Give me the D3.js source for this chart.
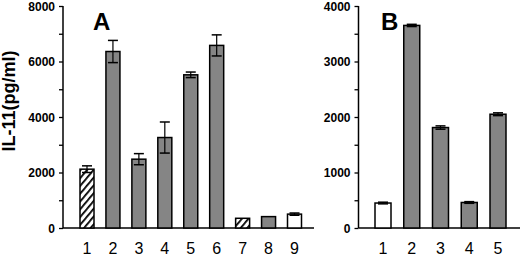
<!DOCTYPE html>
<html>
<head>
<meta charset="utf-8">
<script src="https://cdn.jsdelivr.net/npm/d3@7"></script>
<style>
	body { margin: 0; background: #fff; }
	svg { display: block; }
	text { font-family: "Liberation Sans", Arial, sans-serif; }
</style>
</head>
<body>
<div id="plot"></div>
<script>

///////////////////////////////////////////////////////////////////////
// data

let a_labels = [ "1", "2", "3", "4", "5", "6", "7", "8", "9" ];
let a_values = [ 2120, 6360, 2480, 3260, 5520, 6580, 350, 410, 500 ];
let a_errors = [ 120, 400, 200, 560, 100, 380, 0, 0, 40 ];
let a_fills = [ "hatch", "gray", "gray", "gray", "gray", "gray", "hatch", "gray", "white" ];
let a_ticks = [ 0, 2000, 4000, 6000, 8000 ];

let b_labels = [ "1", "2", "3", "4", "5" ];
let b_values = [ 450, 3650, 1810, 460, 2050 ];
let b_errors = [ 15, 20, 30, 15, 25 ];
let b_fills = [ "white", "gray", "gray", "gray", "gray" ];
let b_ticks = [ 0, 1000, 2000, 3000, 4000 ];

///////////////////////////////////////////////////////////////////////

let width = 520, height = 258;

let svg = d3.select( "#plot" )
	.append( "svg" )
		.attr( "width", width )
		.attr( "height", height );

let defs = svg.append( "defs" );
let pat = defs.append( "pattern" )
	.attr( "id", "hatch" )
	.attr( "patternUnits", "userSpaceOnUse" )
	.attr( "width", 5 )
	.attr( "height", 5 )
	.attr( "patternTransform", "rotate(40)" );
pat.append( "rect" )
	.attr( "width", 5 ).attr( "height", 5 )
	.attr( "fill", "#fff" );
pat.append( "line" )
	.attr( "x1", 0 ).attr( "y1", 0 )
	.attr( "x2", 0 ).attr( "y2", 5 )
	.attr( "stroke", "#000" )
	.attr( "stroke-width", 3.6 );

function fill_of( f )	{
	if( f == "hatch" ) return "url(#hatch)";
	if( f == "gray" ) return "#858585";
	return "#fff";
}

function draw_panel( p )	{

	let g = svg.append( "g" );

	let y = d3.scaleLinear()
		.domain( [ 0, p.ymax ] )
		.range( [ 228, 6 ] );

	let x = d3.scalePoint()
		.domain( p.labels )
		.range( p.xrange );

	// y axis with minor ticks
	let minor = d3.range( 0, p.ymax + 1, p.ymax / 8 );
	g.append( "g" )
		.attr( "transform", "translate(" + p.axis_x + ",0)" )
		.call( d3.axisLeft( y ).tickValues( minor ).tickSize( 4 ).tickFormat( "" ) )
		.call( s => s.select( ".domain" ).remove() )
		.call( s => s.selectAll( "line" ).attr( "stroke-width", 1.3 ) );

	g.append( "line" )
		.attr( "x1", p.axis_x ).attr( "x2", p.axis_x )
		.attr( "y1", y( p.ymax ) ).attr( "y2", y( 0 ) )
		.attr( "stroke", "#000" )
		.attr( "stroke-width", 1.5 );

	g.selectAll( ".tlab" )
		.data( p.ticks )
		.join( "text" )
			.attr( "x", p.axis_x - 8 )
			.attr( "y", d => y( d ) + 4.5 )
			.attr( "text-anchor", "end" )
			.attr( "font-size", 12 )
			.attr( "font-weight", "bold" )
			.text( d => d );

	// x baseline
	g.append( "line" )
		.attr( "x1", p.axis_x ).attr( "x2", p.base_end )
		.attr( "y1", y( 0 ) ).attr( "y2", y( 0 ) )
		.attr( "stroke", "#000" )
		.attr( "stroke-width", 1.5 );

	let rows = p.labels.map( ( l, i ) => ( { l, v: p.values[ i ], e: p.errors[ i ], f: p.fills[ i ] } ) );

	// upper whiskers sit behind the bars
	let eb = g.selectAll( ".err" )
		.data( rows.filter( d => d.e > 0 ) )
		.join( "g" );
	eb.append( "line" )
		.attr( "x1", d => x( d.l ) ).attr( "x2", d => x( d.l ) )
		.attr( "y1", d => y( d.v + d.e ) ).attr( "y2", d => y( d.v ) )
		.attr( "stroke", "#000" ).attr( "stroke-width", 1.2 );
	eb.append( "line" )
		.attr( "x1", d => x( d.l ) - 5 ).attr( "x2", d => x( d.l ) + 5 )
		.attr( "y1", d => y( d.v + d.e ) ).attr( "y2", d => y( d.v + d.e ) )
		.attr( "stroke", "#000" ).attr( "stroke-width", 1.5 );

	g.selectAll( ".bar" )
		.data( rows )
		.join( "rect" )
			.attr( "x", d => x( d.l ) - p.bar_w / 2 )
			.attr( "width", p.bar_w )
			.attr( "y", d => y( d.v ) )
			.attr( "height", d => y( 0 ) - y( d.v ) )
			.attr( "fill", d => fill_of( d.f ) )
			.attr( "stroke", "#000" )
			.attr( "stroke-width", 1.5 );

	// lower whiskers drawn over the bars
	let lw = g.selectAll( ".low" )
		.data( rows.filter( d => d.e > 0 ) )
		.join( "g" );
	lw.append( "line" )
		.attr( "x1", d => x( d.l ) ).attr( "x2", d => x( d.l ) )
		.attr( "y1", d => y( d.v ) ).attr( "y2", d => y( d.v - d.e ) )
		.attr( "stroke", "#000" ).attr( "stroke-width", 1.2 );
	lw.append( "line" )
		.attr( "x1", d => x( d.l ) - 5 ).attr( "x2", d => x( d.l ) + 5 )
		.attr( "y1", d => y( d.v - d.e ) ).attr( "y2", d => y( d.v - d.e ) )
		.attr( "stroke", "#000" ).attr( "stroke-width", 1.5 );

	g.selectAll( ".xlab" )
		.data( p.labels )
		.join( "text" )
			.attr( "x", d => x( d ) )
			.attr( "y", 254 )
			.attr( "text-anchor", "middle" )
			.attr( "font-size", 16 )
			.text( d => d );

	g.append( "text" )
		.attr( "x", p.title_x )
		.attr( "y", 30 )
		.attr( "font-size", 24 )
		.attr( "font-weight", "bold" )
		.text( p.title );
}

draw_panel( {
	labels: a_labels, values: a_values, errors: a_errors, fills: a_fills, ticks: a_ticks,
	ymax: 8000, axis_x: 63, base_end: 314, xrange: [ 87, 294.5 ], bar_w: 14,
	title: "A", title_x: 93
} );

draw_panel( {
	labels: b_labels, values: b_values, errors: b_errors, fills: b_fills, ticks: b_ticks,
	ymax: 4000, axis_x: 358.5, base_end: 520, xrange: [ 383, 498 ], bar_w: 16,
	title: "B", title_x: 381
} );

svg.append( "text" )
	.attr( "transform", "translate(15,101) rotate(-90)" )
	.attr( "text-anchor", "middle" )
	.attr( "font-size", 18 )
	.attr( "font-weight", "bold" )
	.text( "IL-11(pg/ml)" );

</script>
</body>
</html>
